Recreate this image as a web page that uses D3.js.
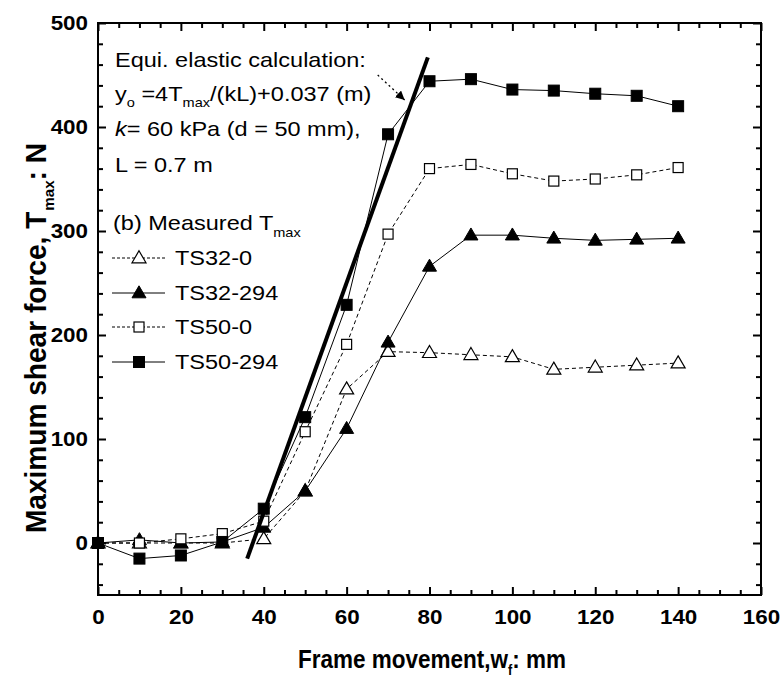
<!DOCTYPE html>
<html><head><meta charset="utf-8">
<script src="https://cdn.jsdelivr.net/npm/d3@7"></script>
<style>body{margin:0;background:#fff}svg{display:block}text{font-family:"Liberation Sans",Arial,sans-serif}</style>
</head><body>
<svg id="c" width="782" height="684"></svg>
<script>
// ---- data ----
const frameMove = [0,10,20,30,40,50,60,70,80,90,100,110,120,130,140];
const ts32_0   = [0,0,0,0,4,50,148,184,183,181,179,167,169,171,173];
const ts32_294 = [0,3,0,1,15,50,110,193,266,296,296,293,291,292,293];
const ts50_0   = [0,0,4,9,21,107,191,297,360,364,355,348,350,354,361];
const ts50_294 = [0,-15,-12,1,33,121,229,393,444,446,436,435,432,430,420];
const calcW = [36, 79.6];
const calcT = [-15, 467];
const arrowFrom = [67.5, 450];
const arrowTo = [74, 426];
const xTicks = [0,20,40,60,80,100,120,140,160];
const yTicks = [0,100,200,300,400,500];
const seriesNames = ["TS32-0","TS32-294","TS50-0","TS50-294"];

const SX = 1.12; // horizontal stretch of the original figure
const svg = d3.select("#c");
const x = d3.scaleLinear([0,160],[98,761]);
const y = d3.scaleLinear([-50,500],[595,23]);

const series = [
  {name:seriesNames[0], vals:ts32_0,   shape:"tri", fill:false, dash:"4,3"},
  {name:seriesNames[1], vals:ts32_294, shape:"tri", fill:true,  dash:null},
  {name:seriesNames[2], vals:ts50_0,   shape:"sq",  fill:false, dash:"4,3"},
  {name:seriesNames[3], vals:ts50_294, shape:"sq",  fill:true,  dash:null}
];

function marker(g, shape, filled, cx, cy){
  if(shape==="sq"){
    const s = filled?11:10;
    g.append("rect").attr("x",cx-s/2).attr("y",cy-s/2).attr("width",s).attr("height",s)
     .attr("fill",filled?"#000":"#fff").attr("stroke","#000").attr("stroke-width",filled?1:1.2);
  } else {
    const w=14,h=12;
    g.append("path").attr("d",`M${cx},${cy-h*0.6}L${cx+w/2},${cy+h*0.4}L${cx-w/2},${cy+h*0.4}Z`)
     .attr("fill",filled?"#000":"#fff").attr("stroke","#000").attr("stroke-width",filled?1:1.2);
  }
}

// ---- axes ----
function styleAxis(g){ g.select(".domain").remove(); g.selectAll("line").attr("stroke","#000").attr("stroke-width",2); }
const minorX = d3.range(5,160,5).filter(v=>v%20);
const minorY = d3.range(-40,500,20).filter(v=>v%100);
const axB = svg.append("g").attr("transform",`translate(0,${y(-50)})`)
  .call(d3.axisBottom(x).tickValues(xTicks).tickSizeInner(-8).tickSizeOuter(0).tickPadding(15));
styleAxis(axB);
styleAxis(svg.append("g").attr("transform",`translate(0,${y(-50)})`)
  .call(d3.axisBottom(x).tickValues(minorX).tickSizeInner(-5).tickSizeOuter(0).tickFormat("")));
styleAxis(svg.append("g").attr("transform",`translate(0,${y(500)})`)
  .call(d3.axisTop(x).tickValues(xTicks).tickSizeInner(-8).tickSizeOuter(0).tickFormat("")));
styleAxis(svg.append("g").attr("transform",`translate(0,${y(500)})`)
  .call(d3.axisTop(x).tickValues(minorX).tickSizeInner(-5).tickSizeOuter(0).tickFormat("")));
const axL = svg.append("g").attr("transform",`translate(${x(0)},0)`)
  .call(d3.axisLeft(y).tickValues(yTicks).tickSizeInner(-8).tickSizeOuter(0).tickPadding(10));
styleAxis(axL);
styleAxis(svg.append("g").attr("transform",`translate(${x(0)},0)`)
  .call(d3.axisLeft(y).tickValues(minorY).tickSizeInner(-5).tickSizeOuter(0).tickFormat("")));
styleAxis(svg.append("g").attr("transform",`translate(${x(160)},0)`)
  .call(d3.axisRight(y).tickValues(yTicks).tickSizeInner(-8).tickSizeOuter(0).tickFormat("")));
styleAxis(svg.append("g").attr("transform",`translate(${x(160)},0)`)
  .call(d3.axisRight(y).tickValues(minorY).tickSizeInner(-5).tickSizeOuter(0).tickFormat("")));

// stretch tick labels
[axB, axL].forEach(g=>{
  g.selectAll("text").each(function(){
    const t=d3.select(this);
    const tx=+t.attr("x")||0, ty=+t.attr("y")||0;
    t.attr("x",0).attr("y",0).attr("transform",`translate(${tx},${ty}) scale(${SX},1)`)
     .attr("font-size",20).attr("font-weight","bold").attr("fill","#000")
     .attr("font-family","'Liberation Sans',Arial,sans-serif");
  });
});

// frame
svg.append("rect").attr("x",x(0)).attr("y",y(500)).attr("width",x(160)-x(0)).attr("height",y(-50)-y(500))
  .attr("fill","none").attr("stroke","#000").attr("stroke-width",2);

// ---- data lines ----
const line = d3.line().x(d=>x(d[0])).y(d=>y(d[1]));
const plot = svg.append("g");
series.forEach(s=>{
  plot.append("path").attr("d",line(frameMove.map((w,i)=>[w,s.vals[i]])))
    .attr("fill","none").attr("stroke","#000").attr("stroke-width",1)
    .attr("stroke-dasharray",s.dash);
});
series.forEach(s=>{
  const g=plot.append("g");
  frameMove.forEach((w,i)=>marker(g,s.shape,s.fill,x(w),y(s.vals[i])));
});
// calculation line
plot.append("path").attr("d",line(calcW.map((w,i)=>[w,calcT[i]])))
  .attr("fill","none").attr("stroke","#000").attr("stroke-width",4);

// arrow
svg.append("defs").append("marker").attr("id","ah").attr("viewBox","0 0 10 10").attr("refX",10).attr("refY",5)
  .attr("markerWidth",9).attr("markerHeight",9).attr("markerUnits","userSpaceOnUse").attr("orient","auto")
  .append("path").attr("d","M0,0L10,5L0,10Z").attr("fill","#000");
svg.append("line").attr("x1",x(arrowFrom[0])).attr("y1",y(arrowFrom[1]))
  .attr("x2",x(arrowTo[0])).attr("y2",y(arrowTo[1]))
  .attr("stroke","#000").attr("stroke-width",1.3).attr("stroke-dasharray","2,3")
  .attr("marker-end","url(#ah)");

// ---- text helper ----
function stext(px,py,size,weight,anchor,build,sx){
  const t = svg.append("text").attr("transform",`translate(${px},${py}) scale(${sx||SX},1)`)
    .attr("font-size",size).attr("font-weight",weight).attr("text-anchor",anchor).attr("fill","#000");
  build(t);
  return t;
}
const FS=21;
stext(115,67,FS,"normal","start",t=>t.text("Equi. elastic calculation:"));
stext(115,101,FS,"normal","start",t=>{
  t.append("tspan").text("y");
  t.append("tspan").attr("font-size",13).attr("dy",6).text("o");
  t.append("tspan").attr("dy",-6).text(" =4T");
  t.append("tspan").attr("font-size",13).attr("dy",6).text("max");
  t.append("tspan").attr("dy",-6).text("/(kL)+0.037 (m)");
});
stext(115,136,FS,"normal","start",t=>{
  t.append("tspan").attr("font-style","italic").text("k");
  t.append("tspan").text("= 60 kPa (d = 50 mm),");
});
stext(115,172,FS,"normal","start",t=>t.text("L = 0.7 m"));
stext(113,230,FS,"normal","start",t=>{
  t.append("tspan").text("(b) Measured T");
  t.append("tspan").attr("font-size",13).attr("dy",7).text("max");
});
const legY=[258,293,327,362];
series.forEach((s,i)=>{
  const g=svg.append("g");
  g.append("line").attr("x1",112).attr("x2",165).attr("y1",legY[i]).attr("y2",legY[i])
   .attr("stroke","#000").attr("stroke-width",1).attr("stroke-dasharray",s.dash?"3,2":null);
  marker(g,s.shape,s.fill,139,legY[i]);
  stext(175,legY[i]+7,FS,"normal","start",t=>t.text(s.name));
});

// axis titles (condensed bold)
stext(432,668,25,"bold","middle",t=>{
  t.append("tspan").text("Frame movement,w");
  t.append("tspan").attr("font-size",14).attr("dy",7).text("f");
  t.append("tspan").attr("dy",-7).text(": mm");
},0.9);
const yt = svg.append("text").attr("transform",`translate(46,338) rotate(-90) scale(1.08,1.1)`)
  .attr("font-size",26).attr("font-weight","bold").attr("text-anchor","middle").attr("fill","#000");
yt.append("tspan").text("Maximum shear force, T");
yt.append("tspan").attr("font-size",14).attr("dx",1).attr("dy",7).text("max");
yt.append("tspan").attr("dy",-7).text(": N");
</script>
</body></html>
